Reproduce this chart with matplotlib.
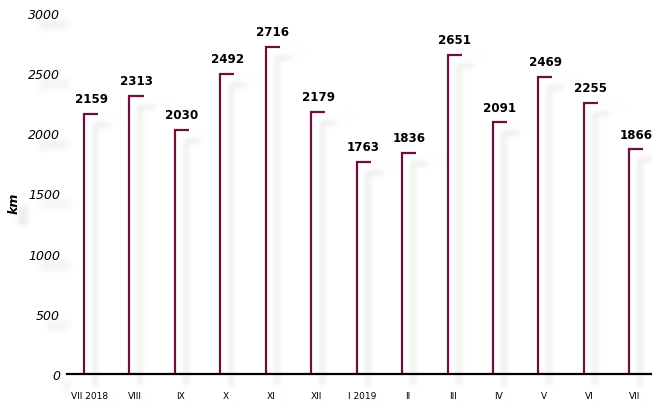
import numpy as np
import matplotlib
matplotlib.use("Agg")
import matplotlib.pyplot as plt
from matplotlib.transforms import IdentityTransform

months = ["VII 2018", "VIII", "IX", "X", "XI", "XII", "I 2019",
          "II", "III", "IV", "V", "VI", "VII"]
distance_km = [2159, 2313, 2030, 2492, 2716, 2179, 1763,
               1836, 2651, 2091, 2469, 2255, 1866]

BAR_COLOR = "#6f0f40"


def gauss_blur(a, sigma):
    r = int(3 * sigma)
    x = np.arange(-r, r + 1)
    k = np.exp(-x ** 2 / (2 * sigma ** 2))
    k /= k.sum()
    a = np.apply_along_axis(lambda m: np.convolve(m, k, mode="same"), 0, a)
    a = np.apply_along_axis(lambda m: np.convolve(m, k, mode="same"), 1, a)
    return a


class DropShadow:
    """agg filter: grey, blurred copy of an artist, shifted right/down (px)."""

    def __init__(self, sigma=2.5, strength=0.3, dx=10, dy=10, grey=0.0):
        self.sigma = sigma
        self.strength = strength
        self.dx = dx
        self.dy = dy
        self.grey = grey

    def __call__(self, im, dpi):
        pad = int(3 * self.sigma) + 2
        src = np.pad(im, [(pad, pad), (pad, pad), (0, 0)], "constant")
        out = np.zeros_like(src)
        out[:, :, :3] = self.grey
        out[:, :, 3] = np.clip(gauss_blur(src[:, :, 3], self.sigma) * self.strength, 0, 1)
        return out, -pad + self.dx, -pad - self.dy


fig = plt.figure(figsize=(6.52, 4.02), dpi=100)
W, H = 652, 402
ax = fig.add_axes([67 / W, (H - 375) / H, (652 - 67) / W, (375 - 14) / H])

x = np.arange(len(months))
cap = 0.31

line_shadow = DropShadow(sigma=2.8, strength=0.16, dx=11, dy=11)
text_shadow = DropShadow(sigma=3.0, strength=0.16, dx=10, dy=10)

for xi, v in zip(x, distance_km):
    xs = [xi, xi, xi + cap]
    ys = [0, v, v]
    sh, = ax.plot(xs, ys, color="k", lw=1.6, solid_joinstyle="miter",
                  clip_on=False, zorder=1)
    sh.set_agg_filter(line_shadow)
    sh.set_rasterized(True)
    ax.plot(xs, ys, color=BAR_COLOR, lw=1.6, solid_joinstyle="miter",
            solid_capstyle="butt", clip_on=False, zorder=3)
    for tz, filt in ((1, text_shadow), (4, None)):
        t = ax.annotate(str(v), (xi + cap / 2, v), xytext=(0, 8.5),
                        textcoords="offset points", ha="center", va="baseline",
                        fontsize=8.6, fontweight="bold", color="black",
                        zorder=tz, annotation_clip=False)
        if filt is not None:
            t.set_agg_filter(filt)
            t.set_rasterized(True)

ax.set_xlim(-0.374, 12.5)
ax.set_ylim(0, 3000)
ax.set_yticks(np.arange(0, 3001, 500))
ax.set_xticks(x + 0.12)
ax.set_xticklabels(months)
ax.tick_params(axis="both", length=0)
ax.tick_params(axis="y", pad=5, labelsize=9)
ax.tick_params(axis="x", pad=12, labelsize=6.5)
for lab in ax.get_yticklabels():
    lab.set_fontstyle("italic")

for side in ("top", "right", "left"):
    ax.spines[side].set_visible(False)
ax.spines["bottom"].set_linewidth(1.6)
ax.spines["bottom"].set_zorder(5)
ax.set_facecolor("none")

ax.set_ylabel("km", fontsize=9, fontweight="bold", fontstyle="italic")
ax.yaxis.set_label_coords(-0.079, 0.476)

# grey blurred copies behind the axis texts
fig.canvas.draw()
tick_texts = list(ax.get_yticklabels()) + list(ax.get_xticklabels()) + [ax.yaxis.label]
for t in tick_texts:
    px, py = t.get_transform().transform(t.get_position())
    s = fig.text(px, py, t.get_text(), fontsize=t.get_fontsize(),
                 fontweight=t.get_fontweight(), fontstyle=t.get_fontstyle(),
                 rotation=t.get_rotation(), ha=t.get_ha(), va=t.get_va(),
                 rotation_mode=t.get_rotation_mode(),
                 transform=IdentityTransform(), zorder=0)
    s.set_agg_filter(text_shadow)
    s.set_rasterized(True)

fig.savefig("out.png", dpi=100)
